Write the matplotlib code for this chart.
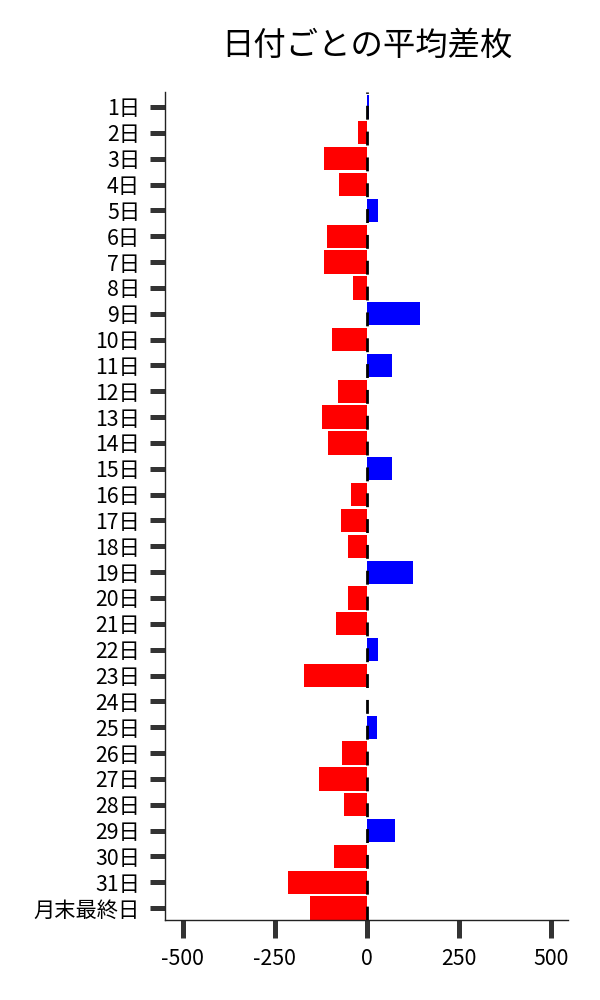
import matplotlib
matplotlib.use('Agg')
import matplotlib.pyplot as plt

plt.rcParams['font.family'] = ['Noto Sans CJK JP', 'DejaVu Sans']
plt.rcParams['axes.unicode_minus'] = False

# 日付ごとの平均差枚
days = [f'{i}日' for i in range(1, 32)] + ['月末最終日']
sasai = [5, -24, -116, -76, 29, -108, -116, -38, 145, -95,
         67, -79, -122, -106, 67, -43, -70, -51, 124, -51,
         -84, 29, -171, 1, 26, -68, -130, -62, 75, -89,
         -214, -154]
xticks = [-500, -250, 0, 250, 500]

colors = ['#0000ff' if v > 0 else '#ff0000' for v in sasai]

fig = plt.figure(figsize=(6, 10), dpi=100)
ax = fig.add_axes([0.275, 0.08, 0.672, 0.828])

pos = list(range(len(days)))
ax.barh(pos, sasai, height=0.9, color=colors, zorder=2)
ax.axvline(0, color='black', linewidth=2, linestyle=(0, (5, 4.3)), zorder=3)

ax.set_yticks(pos)
ax.set_yticklabels(days)
ax.set_ylim(31.46, -0.58)
ax.set_xlim(-548, 546)
ax.set_xticks(xticks)
ax.set_xticklabels([str(t) for t in xticks])

ax.tick_params(axis='both', length=11, width=3.6, color='#333333',
               labelsize=15.3, pad=7)
ax.tick_params(axis='x', length=13)

for s in ['top', 'right']:
    ax.spines[s].set_visible(False)
for s in ['left', 'bottom']:
    ax.spines[s].set_linewidth(1)
    ax.spines[s].set_color('#222222')

ax.set_title('日付ごとの平均差枚', fontsize=23.3, pad=27)

fig.savefig('out.png', dpi=100)
